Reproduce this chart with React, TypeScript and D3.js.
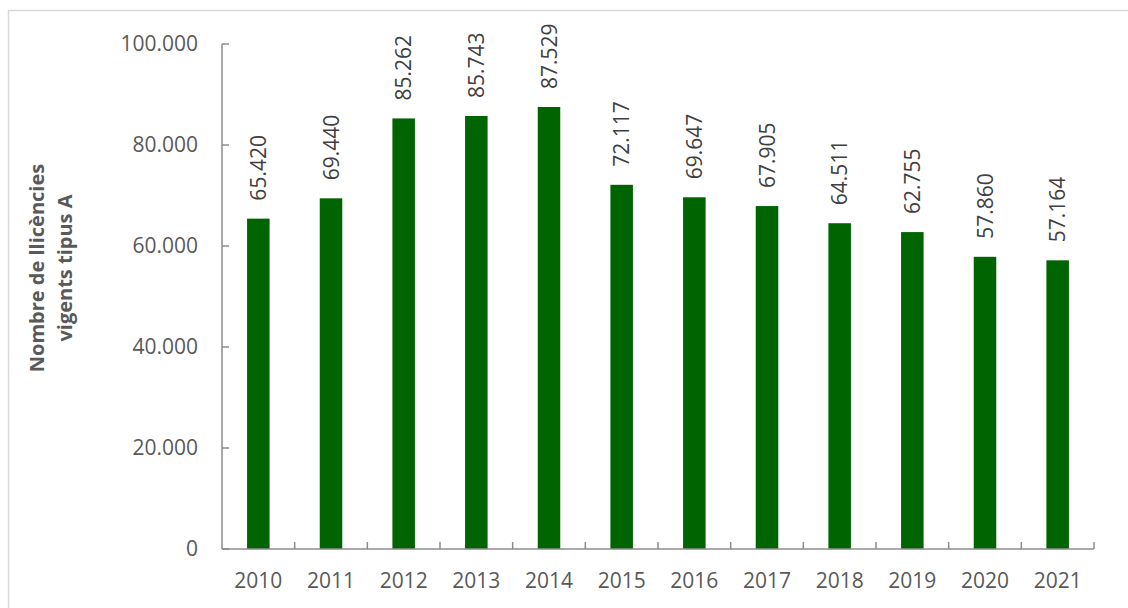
import React from "react";
import * as d3 from "d3";

const years = ["2010","2011","2012","2013","2014","2015","2016","2017","2018","2019","2020","2021"];
const values = [65420, 69440, 85262, 85743, 87529, 72117, 69647, 67905, 64511, 62755, 57860, 57164];
const yTicks = [0, 20000, 40000, 60000, 80000, 100000];
const titleLines = ["Nombre de llicències", "vigents tipus A"];

const W = 1128, H = 608;
const left = 222, right = 1094, top = 44, bottom = 549;
const font = "'Open Sans', 'Liberation Sans', sans-serif";
const fmt = (v: number) => d3.format(",")(v).replace(/,/g, ".");

export default function App() {
  const x = d3.scaleBand().domain(years).range([left, right]).paddingInner(0.69).paddingOuter(0.345);
  const band = d3.scaleBand().domain(years).range([left, right]);
  const y = d3.scaleLinear().domain([0, 100000]).range([bottom, top]);
  const axisColor = "#8c8c8c";
  const textColor = "#595959";
  return (
    <svg width={W} height={H} style={{ position: "absolute", left: 0, top: 0, background: "#fff" }}>
      <rect x={8.5} y={10.5} width={1200} height={700} fill="none" stroke="#d9d9d9" strokeWidth={1.5} />
      {values.map((v, i) => {
        const cx = (x(years[i]) as number) + x.bandwidth() / 2;
        return (
          <g key={years[i]}>
            <rect x={x(years[i])} y={y(v)} width={x.bandwidth()} height={bottom - y(v)} fill="#006400" />
            <text
              transform={`translate(${cx},${y(v) - 18}) rotate(-90)`}
              dy="0.36em"
              fontFamily={font}
              fontSize={21}
              fill="#404040"
            >
              {fmt(v)}
            </text>
            <text x={cx} y={588} textAnchor="middle" fontFamily={font} fontSize={21} fill={textColor}>
              {years[i]}
            </text>
          </g>
        );
      })}
      <line x1={left} x2={left} y1={top} y2={bottom} stroke={axisColor} strokeWidth={1.5} />
      <line x1={left} x2={right} y1={bottom} y2={bottom} stroke={axisColor} strokeWidth={1.5} />
      {yTicks.map((t) => (
        <g key={t}>
          <line x1={left} x2={left + 7} y1={y(t)} y2={y(t)} stroke={axisColor} strokeWidth={1.5} />
          <text x={198} y={y(t)} dy="0.35em" textAnchor="end" fontFamily={font} fontSize={21} fill={textColor}>
            {fmt(t)}
          </text>
        </g>
      ))}
      {years.map((yr) => (
        <line key={yr} x1={(band(yr) as number) + band.bandwidth()} x2={(band(yr) as number) + band.bandwidth()} y1={bottom} y2={bottom - 7} stroke={axisColor} strokeWidth={1.5} />
      ))}
      <g transform={`translate(44,268) rotate(-90)`}>
        {titleLines.map((l, i) => (
          <text key={i} x={0} y={i * 28} textAnchor="middle" fontFamily={font} fontWeight="bold" fontSize={20} fill={textColor}>
            {l}
          </text>
        ))}
      </g>
    </svg>
  );
}
